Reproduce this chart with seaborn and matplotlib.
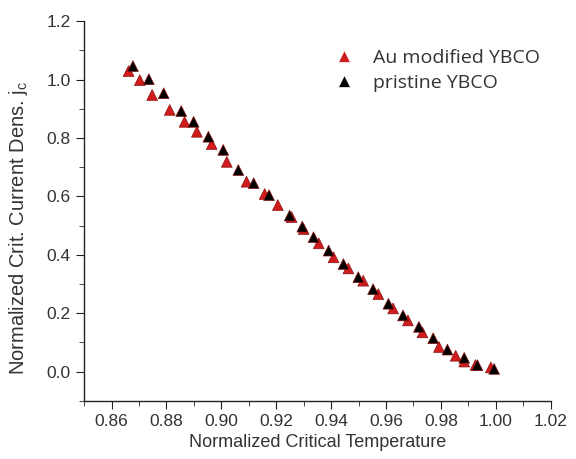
import numpy as np
import pandas as pd
import matplotlib
matplotlib.use("Agg")
import matplotlib.pyplot as plt
import seaborn as sns
from matplotlib.ticker import MultipleLocator, FormatStrFormatter

# Au modified YBCO
au_t = [0.8662, 0.8703, 0.8748, 0.8812, 0.8866, 0.8911, 0.8965, 0.9020, 0.9092,
        0.9158, 0.9206, 0.9256, 0.9300, 0.9355, 0.9409, 0.9463, 0.9517, 0.9572,
        0.9626, 0.9680, 0.9733, 0.9793, 0.9854, 0.9885, 0.9926, 0.9982]
au_j = [1.029, 0.998, 0.947, 0.896, 0.855, 0.821, 0.779, 0.718, 0.650,
        0.608, 0.570, 0.529, 0.488, 0.439, 0.391, 0.353, 0.311, 0.265,
        0.216, 0.175, 0.134, 0.084, 0.054, 0.034, 0.022, 0.014]

# pristine YBCO
pr_t = [0.8678, 0.8736, 0.8790, 0.8854, 0.8899, 0.8953, 0.9007, 0.9062, 0.9118,
        0.9174, 0.9249, 0.9295, 0.9336, 0.9391, 0.9445, 0.9499, 0.9553, 0.9609,
        0.9662, 0.9720, 0.9772, 0.9824, 0.9885, 0.9933, 0.9994]
pr_j = [1.046, 1.001, 0.953, 0.892, 0.855, 0.804, 0.759, 0.690, 0.645,
        0.604, 0.534, 0.496, 0.460, 0.414, 0.368, 0.323, 0.282, 0.232,
        0.192, 0.153, 0.114, 0.075, 0.047, 0.022, 0.009]

labels = ["Au modified YBCO", "pristine YBCO"]
colors = {"Au modified YBCO": "#d01c1c", "pristine YBCO": "#000000"}

df = pd.concat([
    pd.DataFrame({"T": au_t, "j": au_j, "sample": labels[0]}),
    pd.DataFrame({"T": pr_t, "j": pr_j, "sample": labels[1]}),
], ignore_index=True)

sns.set_style("ticks")
plt.rcParams.update({
    "font.family": ["Liberation Sans", "DejaVu Sans"],
    "xtick.direction": "out",
    "ytick.direction": "out",
    "xtick.major.size": 6,
    "ytick.major.size": 6,
    "xtick.minor.size": 3.5,
    "ytick.minor.size": 3.5,
    "axes.linewidth": 1.0,
    "axes.edgecolor": "#222222",
})

fig = plt.figure(figsize=(5.76, 4.59), dpi=100)
ax = fig.add_axes([0.146, 0.127, 0.810, 0.827])

sns.scatterplot(data=df, x="T", y="j", hue="sample", palette=colors, marker="^",
                s=60, linewidth=0.5, ax=ax, legend=True)
for coll, c in zip(ax.collections, ["#8a1010", "#000000"]):
    coll.set_edgecolor(c)

ax.set_xlim(0.85, 1.02)
ax.set_ylim(-0.1, 1.2)
ax.xaxis.set_major_locator(MultipleLocator(0.02))
ax.xaxis.set_minor_locator(MultipleLocator(0.01))
ax.yaxis.set_major_locator(MultipleLocator(0.2))
ax.yaxis.set_minor_locator(MultipleLocator(0.1))
ax.xaxis.set_major_formatter(FormatStrFormatter("%.2f"))
ax.yaxis.set_major_formatter(FormatStrFormatter("%.1f"))
ax.tick_params(labelsize=12.5, colors="#222222", labelcolor="#333333")
sns.despine(ax=ax)

ax.set_xlabel("Normalized Critical Temperature", fontsize=13,
              color="#333333", labelpad=4)
ax.set_ylabel("Normalized Crit. Current Dens. j$_\\mathregular{c}$", fontsize=14.5,
              color="#333333")
ax.yaxis.set_label_coords(-0.115, 0.455)

leg = ax.legend(loc="center left", bbox_to_anchor=(0.516, 0.870), frameon=False,
                title=None, prop={"family": "Open Sans", "size": 14},
                borderpad=0, handlelength=1.0, handletextpad=1.0,
                labelspacing=0.38)
for t in leg.get_texts():
    t.set_color("#333333")
for h in leg.legend_handles:
    if hasattr(h, "set_markersize"):
        h.set_markersize(8)
    else:
        h.set_sizes([60])

fig.savefig("out.png", dpi=100)
